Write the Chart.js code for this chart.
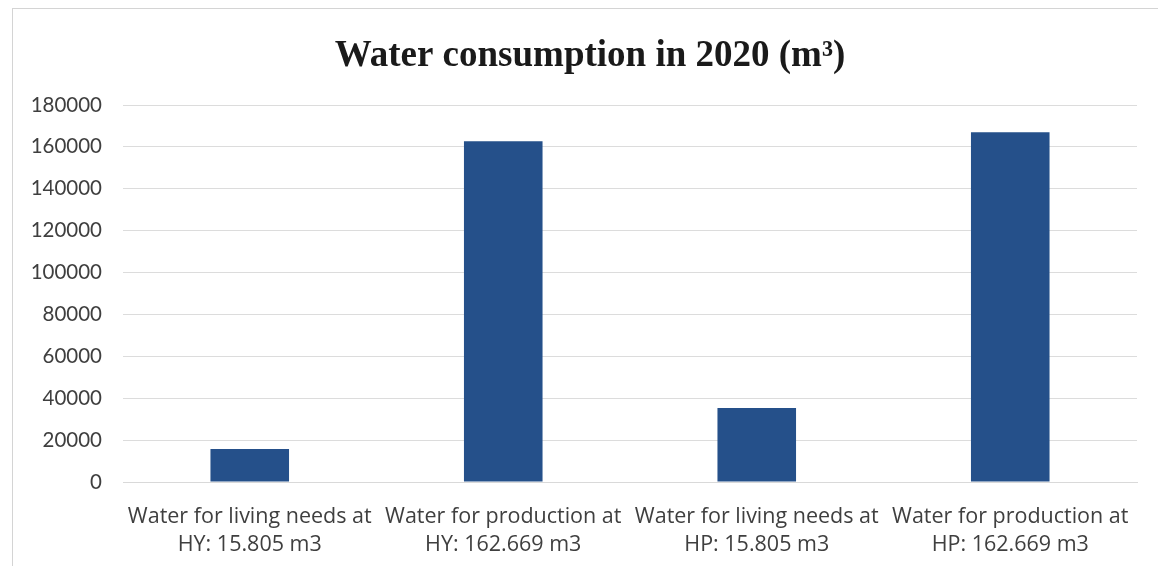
<!DOCTYPE html>
<html>
<head>
<meta charset="utf-8">
<script src="https://cdn.jsdelivr.net/npm/chart.js@4"></script>
<style>
    html, body { margin: 0; padding: 0; background: #fff; }
    #wrap { position: relative; width: 1158px; height: 566px; }
</style>
</head>
<body>
<div id="wrap"><canvas id="waterChart"></canvas></div>
<script>
// categories (two lines each) and the measured consumption per category
const categories = [
    ['Water for living needs at', 'HY: 15.805 m3'],
    ['Water for production at', 'HY: 162.669 m3'],
    ['Water for living needs at', 'HP: 15.805 m3'],
    ['Water for production at', 'HP: 162.669 m3']
];
const consumption = [15805, 162669, 35300, 167000];
const yTicks = [0, 20000, 40000, 60000, 80000, 100000, 120000, 140000, 160000, 180000];

const titleText = 'Water consumption in 2020 (m³)';

// light frame round the chart and the title, centred a little right of the plot
const framePlugin = {
    id: 'frame',
    beforeDraw(chartInstance) {
        const { ctx } = chartInstance;
        ctx.save();
        ctx.strokeStyle = '#d4d4d4';
        ctx.lineWidth = 1;
        ctx.strokeRect(12.5, 8.5, 1200, 600);

        ctx.font = "bold 37px 'Liberation Serif', 'Times New Roman', serif";
        ctx.fillStyle = '#1a1a1a';
        ctx.textAlign = 'center';
        ctx.textBaseline = 'middle';
        ctx.fillText(titleText, 590, 56);
        ctx.restore();
    }
};

const canvas = document.getElementById('waterChart');

new Chart(canvas, {
    type: 'bar',
    data: {
        labels: categories,
        datasets: [{
            data: consumption,
            backgroundColor: '#25508a',
            borderWidth: 0,
            categoryPercentage: 1,
            barPercentage: 0.31
        }]
    },
    options: {
        responsive: true,
        maintainAspectRatio: false,
        animation: false,
        layout: {
            padding: { left: 0, right: 21, top: 105, bottom: 0 }
        },
        plugins: {
            legend: { display: false },
            tooltip: { enabled: false },
            title: { display: false }
        },
        scales: {
            x: {
                afterFit(scale) { scale.height = 84; },
                grid: { display: false, drawTicks: false },
                border: { display: true, color: '#d9d9d9' },
                ticks: {
                    color: '#3f3f3f',
                    font: { family: "'Open Sans', sans-serif", size: 21.5, lineHeight: 1.3 },
                    padding: 21,
                    maxRotation: 0,
                    autoSkip: false
                }
            },
            y: {
                min: 0,
                max: 180000,
                afterFit(scale) { scale.width = 123; },
                afterBuildTicks(scale) {
                    scale.ticks = yTicks.map(v => ({ value: v }));
                },
                grid: { color: '#dcdcdc', drawTicks: false },
                border: { display: false },
                ticks: {
                    color: '#3f3f3f',
                    font: { family: 'Lato, sans-serif', size: 20.5 },
                    padding: 21,
                    callback: value => String(value)
                }
            }
        }
    },
    plugins: [framePlugin]
});
</script>
</body>
</html>
